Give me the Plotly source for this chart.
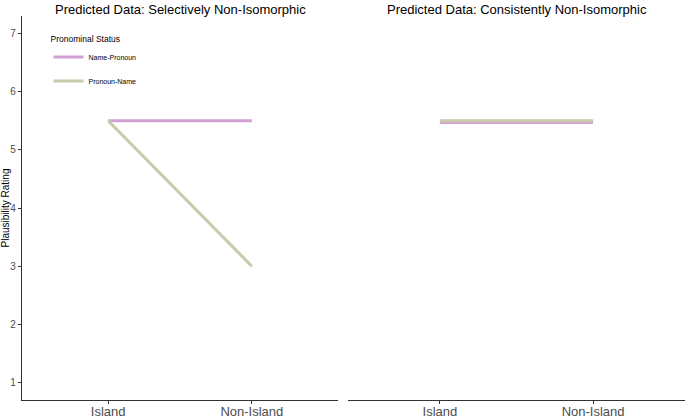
import plotly.graph_objects as go

categories = ["Island", "Non-Island"]
panel_titles = ["Predicted Data: Selectively Non-Isomorphic", "Predicted Data: Consistently Non-Isomorphic"]
name_pronoun_selective = [5.5, 5.5]
pronoun_name_selective = [5.5, 3.0]
name_pronoun_consistent = [5.47, 5.47]
pronoun_name_consistent = [5.5, 5.5]
y_ticks = [1, 2, 3, 4, 5, 6, 7]

PINK = "#D3A0D3"
TAN = "#C9C9AB"

fig = go.Figure()
fig.add_trace(go.Scatter(x=categories, y=name_pronoun_selective, mode="lines", name="Name-Pronoun",
                         line=dict(color=PINK, width=3), legendgroup="a", xaxis="x", yaxis="y"))
fig.add_trace(go.Scatter(x=categories, y=pronoun_name_selective, mode="lines", name="Pronoun-Name",
                         line=dict(color=TAN, width=3), legendgroup="b", xaxis="x", yaxis="y"))
fig.add_trace(go.Scatter(x=categories, y=name_pronoun_consistent, mode="lines", name="Name-Pronoun",
                         line=dict(color=PINK, width=3), legendgroup="a", showlegend=False, xaxis="x2", yaxis="y2"))
fig.add_trace(go.Scatter(x=categories, y=pronoun_name_consistent, mode="lines", name="Pronoun-Name",
                         line=dict(color=TAN, width=3), legendgroup="b", showlegend=False, xaxis="x2", yaxis="y2"))

d1 = [0, 316 / 663]
d2 = [326 / 663, 1]
xcommon = dict(type="category", range=[-0.6, 1.6], showline=True, linecolor="#333333", linewidth=1.3,
               ticks="outside", ticklen=3, tickcolor="#333333", tickfont=dict(size=13, color="#4d4d4d"),
               showgrid=False, zeroline=False, fixedrange=True, automargin=False, ticklabelstandoff=-4)
fig.update_layout(
    width=685, height=418,
    margin=dict(l=22, r=0, t=16, b=18),
    paper_bgcolor="white", plot_bgcolor="white",
    font=dict(family="Liberation Sans, Arial, sans-serif", color="#000000"),
    xaxis=dict(domain=d1, anchor="y", **xcommon),
    xaxis2=dict(domain=d2, anchor="y2", **xcommon),
    yaxis=dict(range=[0.7, 7.3], tickvals=y_ticks, showline=True, linecolor="#333333", linewidth=1.3,
               ticks="outside", ticklen=3, tickcolor="#333333", tickfont=dict(size=10, color="#4d4d4d"),
               showgrid=False, zeroline=False, anchor="x", automargin=False,
               title=dict(text="Plausibility Rating", font=dict(size=10, color="#000000"), standoff=2)),
    yaxis2=dict(range=[0.7, 7.3], showline=False, showticklabels=False, ticks="", showgrid=False,
                zeroline=False, anchor="x2", automargin=False),
    showlegend=True,
    legend=dict(x=0.04, y=0.96, xanchor="left", yanchor="top", bgcolor="rgba(0,0,0,0)",
                title=dict(text="Pronominal Status", font=dict(size=8.5, color="#000000")),
                font=dict(size=7, color="#000000"), traceorder="grouped", tracegroupgap=5,
                itemwidth=30),
)
for i, t in enumerate(panel_titles):
    dom = d1 if i == 0 else d2
    fig.add_annotation(text=t, x=(dom[0] + dom[1]) / 2, y=1.0, xref="paper", yref="paper",
                       yanchor="bottom", xanchor="center", showarrow=False, yshift=-3,
                       font=dict(size=13, color="#000000"))

fig.write_html("out.html", config={"displayModeBar": False},
               post_script="document.body.style.margin='0';")
